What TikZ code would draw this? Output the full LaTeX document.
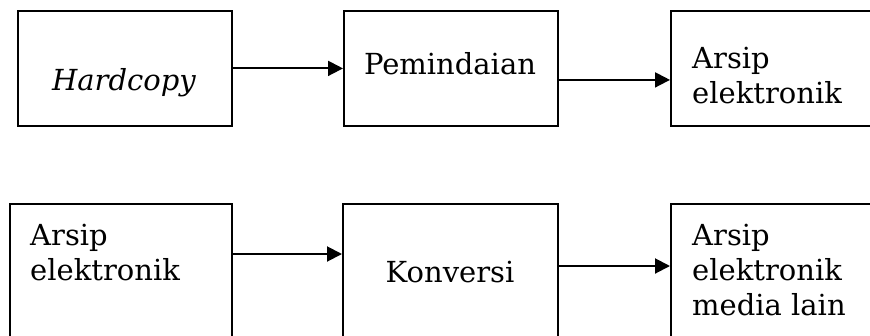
\documentclass[tikz,border=0pt]{standalone}
\usepackage{fontspec}
\setmainfont{DejaVu Serif}
\usetikzlibrary{arrows.meta}
\tikzset{
  boxnode/.style={draw, line width=1.8pt, rectangle, inner sep=0pt, anchor=north west},
  txt/.style={inner sep=0pt, font=\fontsize{29}{35}\selectfont},
  blocktxt/.style={txt, align=left, anchor=base west},
  conn/.style={line width=2pt, -{Triangle[length=15pt,width=15pt]}}
}
\begin{document}
\begin{tikzpicture}[x=1pt,y=-1pt]
\useasboundingbox (0,0) rectangle (870,335);
\clip (0,0) rectangle (870,335);
% top row
\node[boxnode, minimum width=214pt, minimum height=115pt] (b1) at (17,10) {};
\node[boxnode, minimum width=214pt, minimum height=115pt] (b2) at (343,10) {};
\node[boxnode, minimum width=300pt, minimum height=115pt] (b3) at (670,10) {};
% bottom row
\node[boxnode, minimum width=222pt, minimum height=200pt] (b4) at (9,203) {};
\node[boxnode, minimum width=215pt, minimum height=200pt] (b5) at (342,203) {};
\node[boxnode, minimum width=300pt, minimum height=200pt] (b6) at (670,203) {};
% texts (base = baseline of last line)
\node[txt, anchor=base] (t1) at (124,90) {\itshape Hardcopy};
\node[txt, anchor=base] (t2) at (450,74) {Pemindaian};
\node[blocktxt] (t3) at (692,103) {Arsip\\elektronik};
\node[blocktxt] (t4) at (30,280) {Arsip\\elektronik};
\node[txt, anchor=base] (t5) at (450,282) {Konversi};
\node[blocktxt] (t6) at (692,315) {Arsip\\elektronik\\media lain};
% connectors
\draw[conn] (b1.east) -- (b2.west);
\draw[conn] ([yshift=-11.5pt]b2.east) -- ([yshift=-11.5pt]b3.west);
\draw[conn] ([yshift=-51pt]b4.north east) -- ([yshift=-51pt]b5.north west);
\draw[conn] ([yshift=-63pt]b5.north east) -- ([yshift=-63pt]b6.north west);
\end{tikzpicture}
\end{document}
